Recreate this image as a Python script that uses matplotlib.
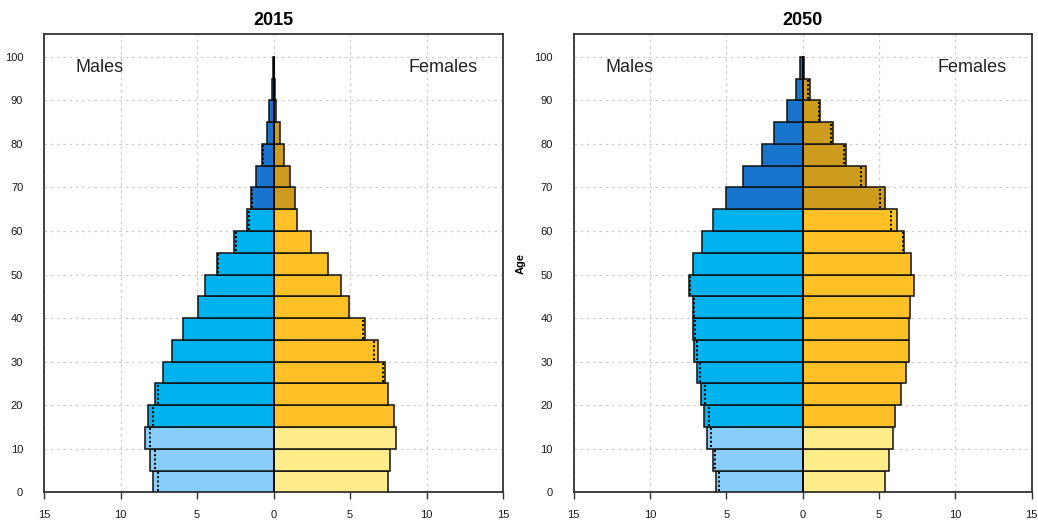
import numpy as np
import matplotlib
matplotlib.use("Agg")
import matplotlib.pyplot as plt

plt.rcParams['font.family'] = ['Liberation Sans', 'DejaVu Sans']

# age groups 0-4 ... 95-99 (lower bound of each 5-year band)
ages = list(range(0, 100, 5))

# percent of total population, 2015
male_2015 = [7.88, 8.06, 8.41, 8.23, 7.73, 7.21, 6.66, 5.92, 4.93, 4.50,
             3.71, 2.58, 1.75, 1.48, 1.14, 0.76, 0.44, 0.28, 0.09, 0.04]
female_2015 = [7.47, 7.64, 7.99, 7.90, 7.47, 7.31, 6.86, 6.00, 4.96, 4.43,
               3.58, 2.42, 1.55, 1.40, 1.05, 0.70, 0.44, 0.17, 0.09, 0.03]
# comparison profile (dotted)
male_2015_ref = [7.53, 7.73, 8.06, 7.88, 7.53, 7.21, 6.66, 5.92, 4.93, 4.50,
                 3.62, 2.42, 1.59, 1.38, 1.14, 0.68, 0.44, 0.28, 0.09, 0.04]
female_2015_ref = [7.47, 7.64, 7.99, 7.90, 7.47, 7.14, 6.59, 5.83, 4.96, 4.43,
                   3.58, 2.42, 1.55, 1.40, 1.05, 0.70, 0.44, 0.17, 0.09, 0.03]

# percent of total population, 2050
male_2050 = [5.70, 5.90, 6.24, 6.48, 6.66, 6.92, 7.10, 7.16, 7.21, 7.45,
             7.21, 6.59, 5.90, 5.02, 3.89, 2.69, 1.90, 1.03, 0.41, 0.17]
female_2050 = [5.39, 5.63, 5.92, 6.07, 6.42, 6.77, 6.94, 6.94, 7.03, 7.29,
               7.12, 6.66, 6.16, 5.37, 4.17, 2.86, 1.99, 1.14, 0.46, 0.09]
male_2050_ref = [5.48, 5.72, 5.98, 6.14, 6.40, 6.75, 6.92, 7.05, 7.14, 7.38,
                 7.21, 6.59, 5.90, 5.02, 3.89, 2.69, 1.90, 1.03, 0.41, 0.17]
female_2050_ref = [5.39, 5.63, 5.92, 6.07, 6.42, 6.77, 6.94, 6.94, 7.03, 7.29,
                   7.12, 6.59, 5.81, 5.04, 3.82, 2.69, 1.83, 1.05, 0.33, 0.09]

male_cols = ['#87CEFA', '#00B2EE', '#1874CD']
female_cols = ['#FFEC8B', '#FFC125', '#CD9B1D']


def group_colors(cols):
    out = []
    for a in ages:
        if a < 15:
            out.append(cols[0])
        elif a < 65:
            out.append(cols[1])
        else:
            out.append(cols[2])
    return out


def pyramid(ax, title, male, female, male_ref, female_ref):
    y = np.array(ages)
    ax.barh(y, -np.array(male), height=5, align='edge',
            color=group_colors(male_cols), edgecolor='#111111', linewidth=1.1, zorder=3)
    ax.barh(y, female, height=5, align='edge',
            color=group_colors(female_cols), edgecolor='#111111', linewidth=1.1, zorder=3)
    # dotted markers only where the comparison differs from the bar
    for i, a in enumerate(ages):
        if abs(male_ref[i] - male[i]) > 0.02:
            ax.plot([-male_ref[i]] * 2, [a + 0.3, a + 4.7], color='black', lw=1.4,
                    ls=(0, (1, 1.2)), zorder=4)
        if abs(female_ref[i] - female[i]) > 0.02:
            ax.plot([female_ref[i]] * 2, [a + 0.3, a + 4.7], color='black', lw=1.4,
                    ls=(0, (1, 1.2)), zorder=4)
    ax.axvline(0, color='black', lw=1.1, zorder=5, ymax=100 / 105.3)

    ax.set_xlim(-15, 15)
    ax.set_ylim(0, 105.3)
    xt = np.arange(-15, 16, 5)
    ax.set_xticks(xt)
    ax.set_xticklabels([str(abs(v)) for v in xt])
    ax.set_yticks(np.arange(0, 101, 10))
    ax.tick_params(axis='x', length=5, width=1, color='#333333', labelsize=8,
                   labelcolor='#1a1a1a', pad=8)
    ax.tick_params(axis='y', length=0, labelsize=8, labelcolor='#1a1a1a', pad=15)
    ax.grid(True, color='#cccccc', lw=0.9, ls=(0, (2, 3)), zorder=0)
    for s in ax.spines.values():
        s.set_color('#333333')
        s.set_linewidth(1.3)
    ax.set_title(title, fontsize=13, fontweight='bold', pad=6)
    ax.text(-11.35, 97.5, 'Males', ha='center', va='center', fontsize=13, color='#222222')
    ax.text(11.1, 97.5, 'Females', ha='center', va='center', fontsize=13, color='#222222')


fig = plt.figure(figsize=(10.38, 5.21), dpi=100)
ax1 = fig.add_axes([0.0424, 0.0551, 0.4422, 0.8802])
ax2 = fig.add_axes([0.5527, 0.0551, 0.4412, 0.8802])

pyramid(ax1, '2015', male_2015, female_2015, male_2015_ref, female_2015_ref)
pyramid(ax2, '2050', male_2050, female_2050, male_2050_ref, female_2050_ref)
ax2.set_ylabel('Age', fontsize=8, fontweight='bold', labelpad=6)

fig.savefig('out.png', dpi=100)
